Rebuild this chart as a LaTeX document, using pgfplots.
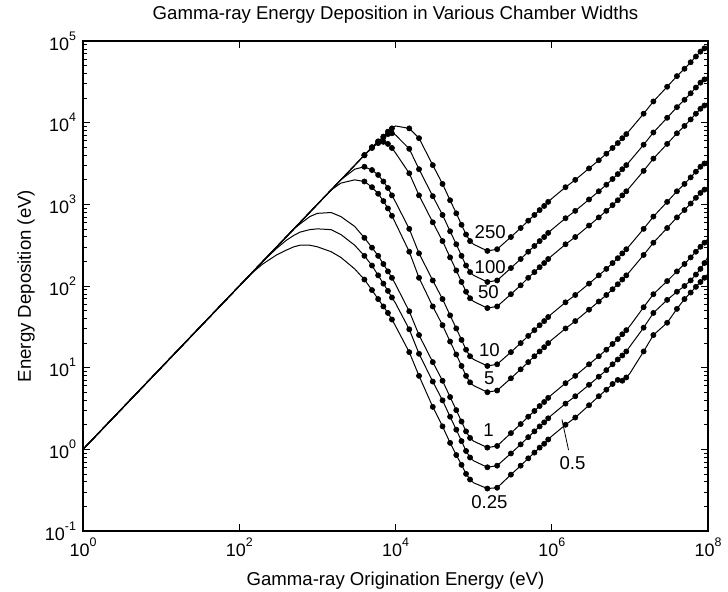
\documentclass[border=0pt]{standalone}
\usepackage{pgfplots}
\pgfplotsset{compat=1.18}
\usepackage{pgfplotstable}
\usepackage{fontspec}
\setmainfont{Liberation Sans}
\newcommand{\tp}[1]{10\raisebox{0.55em}{\fontsize{6.2}{6}\selectfont #1}}

% columns: a=250, b=100, c=50, d=10, e=5, f=1, g=0.5, h=0.25
\pgfplotstableread{
E a b c d e f g h
1 1 1 1 1 1 1 1 1
100 100 100 100 100 100 100 100 100
150 150 150 150 150 150 150 150 148
200 200 200 200 200 200 200 200 186
300 300 300 300 300 300 300 288 240
400 400 400 400 400 400 400 363 275
500 500 500 500 500 500 500 417 302
600 600 600 600 600 600 575 457 316
800 800 800 800 800 800 708 490 316
1000 1000 1000 1000 1000 1000 776 501 302
1500 1500 1500 1500 1500 1500 794 490 263
2000 2000 2000 2000 2000 1820 708 427 224
3000 3000 3000 3000 2692 1995 537 316 162
4000 4000 4000 4000 2884 1905 389 234 120
5000 5000 5000 4898 2630 1622 295 178 89.1
6000 5888 5888 5623 2291 1349 234 135 69.2
7000 6761 6607 5821 1905 1096 186 107 56.2
8000 7762 7244 5495 1585 891 151 87.1 46.8
9000 8511 7413 4898 1288 724 126 72.4 38.9
10000 9120 7079 4266 1072 589 105 61.7 32.4
15000 8511 4786 2399 501 263 49.0 29.5 15.5
20000 6457 2692 1288 251 126 25.1 14.8 7.94
30000 3020 1259 603 117 56.2 11.7 6.76 3.31
40000 1778 741 355 69.2 33.1 6.92 3.98 1.91
50000 1122 468 224 43.7 20.9 4.37 2.51 1.20
60000 776 324 155 30.2 14.5 3.02 1.74 0.851
70000 562 234 112 21.9 10.5 2.19 1.26 0.646
80000 427 178 85.1 16.6 7.94 1.66 0.955 0.501
90000 355 148 70.8 13.8 6.61 1.38 0.794 0.427
100000 324 135 64.6 12.6 6.03 1.26 0.724 0.389
150000 269 112 53.7 10.5 5.01 1.05 0.603 0.331
200000 282 117 56.2 11.0 5.25 1.10 0.631 0.339
300000 398 166 79.4 15.5 7.41 1.58 0.891 0.490
400000 513 214 102 20.0 9.55 2.04 1.15 0.631
500000 631 263 126 24.5 11.7 2.51 1.41 0.776
600000 741 309 148 28.8 13.8 2.95 1.66 0.912
700000 851 355 170 33.1 15.8 3.39 1.91 1.05
800000 955 398 191 37.2 17.8 3.80 2.14 1.17
900000 1072 447 214 41.7 20.0 4.27 2.40 1.32
1000000 1175 490 234 45.7 21.9 4.68 2.63 1.45
1500000 1622 676 324 63.1 30.2 6.46 3.63 2.00
2000000 1995 832 398 77.6 37.2 7.94 4.47 2.45
3000000 2754 1148 550 107 51.3 11.0 6.17 3.47
4000000 3467 1445 692 135 64.6 13.8 7.76 4.47
5000000 4169 1738 832 162 77.6 16.6 9.33 5.37
6000000 4898 2042 977 191 91.2 19.5 11.0 6.31
7000000 5623 2344 1122 219 105 22.4 12.6 7.08
8000000 6457 2692 1288 251 120 25.7 14.1 6.92
9000000 7244 3020 1445 282 135 28.8 15.8 7.59
10000000 8128 3388 1622 316 151 32.4 18.2 8.51
15000000 12880 5370 2570 501 240 55.0 30.9 15.8
20000000 18200 7586 3631 708 339 79.4 46.8 25.1
30000000 27540 11480 5495 1072 513 115 67.6 35.5
40000000 37150 15490 7413 1445 692 151 85.1 52.5
50000000 45710 19050 9120 1778 851 186 100 69.2
60000000 54950 22910 10960 2138 1023 224 117 83.2
70000000 64570 26920 12880 2512 1202 263 138 97.7
80000000 74130 30900 14790 2884 1380 302 162 112
90000000 81280 33880 16220 3162 1514 339 191 126
100000000 89130 37150 17780 3467 1660 380 229 141
}\data

\begin{document}
\begin{tikzpicture}
\begin{axis}[
  scale only axis, width=312.5pt, height=245pt,
  xmode=log, ymode=log,
  xmin=1, xmax=1e8, ymin=0.1, ymax=1e5,
  xtick={1,1e2,1e4,1e6,1e8},
  xticklabels={\tp{0},\tp{2},\tp{4},\tp{6},\tp{8}},
  ytick={0.1,1,10,100,1000,1e4,1e5},
  yticklabels={\tp{-1},\tp{0},\tp{1},\tp{2},\tp{3},\tp{4},\tp{5}},
  xminorticks=false,
  minor ytick={0.2,0.3,0.4,0.5,0.6,0.7,0.8,0.9,2,3,4,5,6,7,8,9,20,30,40,50,60,70,80,90,200,300,400,500,600,700,800,900,2000,3000,4000,5000,6000,7000,8000,9000,20000,30000,40000,50000,60000,70000,80000,90000},
  tick align=inside,
  major tick length=3.5pt, minor tick length=2pt,
  every tick/.style={black, line width=0.4pt},
  axis line style={black, line width=0.6pt},
  tick label style={font=\fontsize{9}{10}\selectfont},
  title={Gamma-ray Energy Deposition in Various Chamber Widths},
  title style={at={(axis description cs:0.5,1.0185)}, anchor=base, font=\fontsize{9.3}{11}\selectfont},
  xlabel={Gamma-ray Origination Energy (eV)},
  xlabel style={at={(axis description cs:0.5,-0.1122)}, anchor=base, font=\fontsize{9.3}{11}\selectfont},
  ylabel={Energy Deposition (eV)},
  ylabel style={at={(axis description cs:-0.0832,0.5)}, anchor=base, font=\fontsize{9.3}{11}\selectfont},
]
\pgfplotsinvokeforeach{a,b,c,d,e,f,g,h}{
  \addplot[black, line width=0.5pt, mark=*, mark size=1.3pt,
    mark options={fill=black, draw=black, line width=0.3pt},
    mark indices={14,15,16,17,18,19,21,22,23,24,25,26,27,28,29,31,32,33,34,35,36,37,38,39,41,42,43,44,45,46,47,48,49,51,52,53,54,55,56,57,58,59}]
    table[x=E, y=#1]{\data};
}
\node[font=\fontsize{9.3}{11}\selectfont] at (axis cs:1.63e5,460) {250};
\node[font=\fontsize{9.3}{11}\selectfont] at (axis cs:1.63e5,172) {100};
\node[font=\fontsize{9.3}{11}\selectfont] at (axis cs:1.55e5,85) {50};
\node[font=\fontsize{9.3}{11}\selectfont] at (axis cs:1.59e5,16.4) {10};
\node[font=\fontsize{9.3}{11}\selectfont] at (axis cs:1.59e5,7.5) {5};
\node[font=\fontsize{9.3}{11}\selectfont] at (axis cs:1.55e5,1.73) {1};
\node[font=\fontsize{9.3}{11}\selectfont] at (axis cs:1.84e6,0.675) {0.5};
\node[font=\fontsize{9.3}{11}\selectfont] at (axis cs:1.59e5,0.229) {0.25};
\draw[black, line width=0.4pt] (axis cs:1.35e6,2.33) -- (axis cs:1.64e6,0.98);
\coordinate (bl) at (rel axis cs:0,0);
\coordinate (tr) at (rel axis cs:1,1);
\end{axis}
\path (bl) ++(-41.5pt,-30pt) coordinate (BL);
\path (tr) ++(10pt,20.5pt) coordinate (TR);
\pgfresetboundingbox
\useasboundingbox (BL) rectangle (TR);
\end{tikzpicture}
\end{document}
